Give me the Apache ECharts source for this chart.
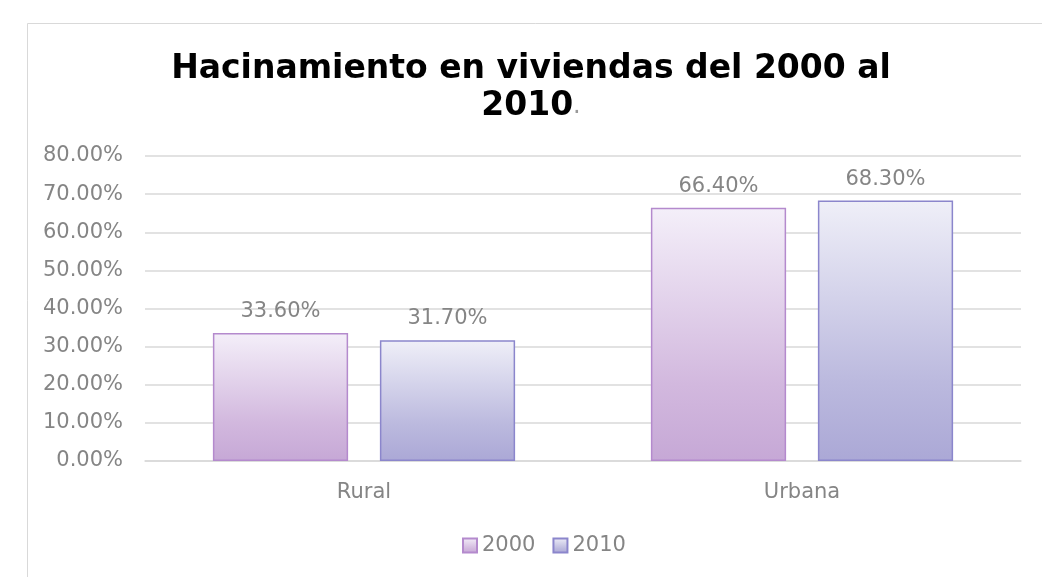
<!DOCTYPE html>
<html>
<head>
<meta charset="utf-8">
<script src="https://cdn.jsdelivr.net/npm/echarts@6/dist/echarts.min.js"></script>
<style>
html,body{margin:0;padding:0;background:#fff;}
#main{width:1042px;height:577px;}
</style>
</head>
<body>
<div id="main"></div>
<script>
const categories = ['Rural', 'Urbana'];
const seriesNames = ['2000', '2010'];
const values2000 = [33.6, 66.4];
const values2010 = [31.7, 68.3];
const yTicks = { min: 0, max: 80, interval: 10 };
const titleLine1 = 'Hacinamiento en viviendas del 2000 al';
const titleLine2 = '2010';

const FONT = '"DejaVu Sans", sans-serif';
const GRAY = '#858585';

function grad(top, mid, bottom) {
  return new echarts.graphic.LinearGradient(0, 0, 0, 1, [
    { offset: 0, color: top },
    { offset: 0.7, color: mid },
    { offset: 1, color: bottom }
  ]);
}

const chart = echarts.init(document.getElementById('main'), null, { renderer: 'canvas' });
chart.setOption({
  backgroundColor: '#fff',
  animation: false,
  textStyle: { fontFamily: FONT },
  graphic: [
    {
      type: 'rect', silent: true,
      shape: { x: 27.5, y: 23.5, width: 1200, height: 800 },
      style: { fill: 'none', stroke: '#d9d9d9', lineWidth: 1 }
    },
    {
      type: 'text', silent: true,
      x: 531, y: 51,
      style: {
        text: '{b|' + titleLine1 + '}\n{b|' + titleLine2 + '}{p|.}',
        align: 'center',
        verticalAlign: 'top',
        rich: {
          b: { fontFamily: FONT, fontWeight: 'bold', fontSize: 33, lineHeight: 37, fill: '#000' },
          p: { fontFamily: FONT, fontWeight: 'normal', fontSize: 24, lineHeight: 37, fill: '#999' }
        }
      }
    }
  ],
  legend: {
    data: seriesNames,
    left: 462,
    top: 535,
    padding: 0,
    itemWidth: 14,
    itemHeight: 14,
    itemGap: 17,
    icon: 'rect',
    textStyle: { fontFamily: FONT, fontSize: 21, color: GRAY }
  },
  grid: { left: 145, right: 21, top: 156, bottom: 116, containLabel: false },
  xAxis: {
    type: 'category',
    data: categories,
    axisLine: { lineStyle: { color: '#d9d9d9', width: 1.5 } },
    axisTick: { show: false },
    axisLabel: { fontFamily: FONT, fontSize: 21, color: GRAY, margin: 21 }
  },
  yAxis: {
    type: 'value',
    min: yTicks.min, max: yTicks.max, interval: yTicks.interval,
    axisLine: { show: false },
    axisTick: { show: false },
    splitLine: { lineStyle: { color: '#d9d9d9', width: 1.5 } },
    axisLabel: {
      fontFamily: FONT, fontSize: 21, color: GRAY, margin: 22,
      formatter: v => v.toFixed(2) + '%'
    }
  },
  series: [
    {
      name: seriesNames[0], type: 'bar', data: values2000,
      barGap: '23.5%', barCategoryGap: '31%',
      itemStyle: { color: grad('#f4eff9', '#d2b8de', '#c6a8d6'), borderColor: '#b48acd', borderWidth: 1.5 },
      label: {
        show: true, position: 'top', distance: 11,
        fontFamily: FONT, fontSize: 21, color: GRAY,
        formatter: p => p.value.toFixed(2) + '%'
      }
    },
    {
      name: seriesNames[1], type: 'bar', data: values2010,
      barGap: '23.5%', barCategoryGap: '31%',
      itemStyle: { color: grad('#efeff8', '#bbb9de', '#aba8d6'), borderColor: '#8b86cc', borderWidth: 1.5 },
      label: {
        show: true, position: 'top', distance: 11,
        fontFamily: FONT, fontSize: 21, color: GRAY,
        formatter: p => p.value.toFixed(2) + '%'
      }
    }
  ]
});
</script>
</body>
</html>
